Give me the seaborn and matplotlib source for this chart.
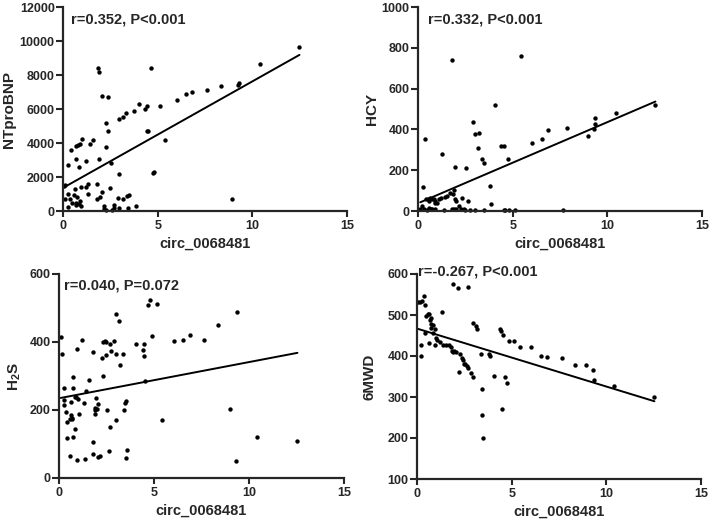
import matplotlib
matplotlib.use("Agg")
import numpy as np
import pandas as pd
import matplotlib.pyplot as plt
import seaborn as sns

# values
ntpro_x = [0.12, 0.04, 0.26, 0.44, 0.67, 0.67, 0.81, 0.88, 1.02, 0.84, 1.21, 1.40, 1.58, 1.88,
           1.84, 1.88, 2.04, 2.40, 2.28, 2.39, 2.28, 2.51, 2.96, 2.98, 3.16, 3.35, 3.77, 4.04,
           4.35, 4.46, 4.44, 4.51, 4.65, 4.74, 4.82, 5.12, 5.39, 6.02, 6.51, 6.82, 7.61, 8.32,
           9.26, 9.30, 8.95, 10.40, 12.49,
           0.09, 0.25, 0.25, 0.35, 0.49, 0.56, 0.61, 0.67, 0.75, 0.70, 0.82, 0.88, 0.95, 0.95,
           1.23, 1.32, 1.30, 1.79, 1.79, 1.93, 2.07, 2.14, 2.19, 2.25, 2.46, 2.61, 2.67, 2.72,
           2.89, 2.98, 3.16, 3.39, 3.49, 3.44, 3.86]
ntpro_y = [1530, 1500, 2700, 3580, 3030, 3820, 3900, 3970, 4210, 2580, 2940, 3970, 4170, 3030,
           8430, 8160, 6750, 6710, 5190, 4700, 3760, 2800, 2190, 5420, 5540, 5750, 5870, 6320,
           6010, 6200, 4680, 4680, 8430, 2250, 2290, 6160, 4150, 6520, 6870, 6990, 7100, 7340,
           7400, 7550, 685, 8650, 9630,
           725, 1020, 235, 685, 470, 960, 1310, 450, 820, 370, 430, 570, 270, 1430,
           1410, 1020, 1570, 1570, 685, 820, 1120, 290, 140, 60, 1370, 80, 350, 200,
           780, 200, 685, 880, 940, 200, 290]

hcy_x = [0.25, 0.39, 1.27, 1.94, 1.80, 2.54, 2.91, 3.03, 3.20, 3.17, 3.36, 3.50, 3.80, 3.87,
         4.07, 4.38, 4.52, 4.75, 5.42, 6.04, 6.55, 6.87, 7.87, 9.00, 9.31, 9.35, 9.35, 10.44,
         12.54,
         0.21, 0.12, 0.30, 0.40, 0.51, 0.60, 0.65, 0.74, 0.83, 0.88, 0.92, 1.00, 0.67, 0.56,
         0.74, 0.46, 0.92, 1.09, 1.23, 1.41, 1.55, 1.67, 1.83, 1.90, 1.97, 2.02, 2.15, 2.32,
         2.29, 2.64, 1.80, 1.88, 1.99, 2.41, 2.50, 2.76, 3.03, 3.47, 1.36, 4.52, 4.61, 4.79,
         5.14, 7.64]
hcy_y = [119, 354, 281, 217, 739, 209, 436, 377, 383, 307, 256, 237, 124, 36,
         520, 321, 321, 253, 762, 331, 352, 397, 405, 367, 400, 427, 457, 478,
         520,
         24, 8, 11, 57, 60, 50, 62, 57, 60, 50, 41, 38, 11, 16,
         11, 5, 11, 57, 64, 70, 73, 86, 82, 104, 57, 47, 24, 64,
         11, 49, 11, 8, 8, 8, 5, 5, 5, 5, 5, 5, 5, 5,
         5, 5]

h2s_x = [0.09, 0.14, 0.25, 0.26, 0.28, 0.39, 0.44, 0.44, 0.56, 0.60, 0.63, 0.65, 0.69, 0.70,
         0.74, 0.76, 0.76, 0.83, 0.85, 0.90, 0.97, 1.00, 0.95, 1.04, 1.21, 1.29, 1.36, 1.41,
         1.58, 1.78, 1.80, 1.78, 1.88, 1.92, 1.92, 1.95, 1.99, 2.06, 2.04, 2.17, 2.24, 2.32,
         2.29, 2.41, 2.46, 2.46, 2.52, 2.64, 2.68, 2.69, 2.73, 2.90, 2.98, 3.01, 2.99, 3.17,
         3.20, 3.38, 3.41, 3.45, 3.50, 3.57, 3.50, 4.07, 4.40, 4.47, 4.49, 4.52, 4.68, 4.77,
         4.88, 5.14, 5.42, 6.06, 6.53, 6.88, 7.64, 8.38, 8.98, 9.35, 9.31, 10.44, 12.55]
h2s_y = [414, 365, 265, 229, 216, 194, 164, 118, 65, 175, 224, 184, 176, 175,
         122, 265, 298, 237, 143, 238, 379, 233, 54, 188, 406, 220, 55, 255,
         287, 372, 106, 72, 206, 199, 189, 235, 203, 62, 219, 65, 354, 299,
         400, 404, 400, 361, 200, 78, 149, 393, 375, 403, 481, 365, 170, 461,
         332, 364, 200, 220, 227, 83, 60, 393, 377, 358, 394, 284, 508, 523,
         417, 513, 171, 402, 405, 422, 406, 451, 203, 487, 49, 122, 109]

mwd_x = [0.05, 0.16, 0.26, 0.39, 0.42, 0.23, 0.23, 0.42, 0.49, 0.56, 0.62, 0.65, 0.69, 0.72,
         0.74, 0.76, 0.83, 0.86, 0.93, 0.97, 1.00, 1.06, 1.30, 1.21, 1.39, 1.55, 1.71, 1.78,
         1.83, 1.92, 1.88, 1.95, 2.06, 2.15, 2.20, 2.29, 2.38, 2.43, 2.46, 2.55, 2.62, 2.69,
         2.68, 2.85, 2.98, 2.98, 3.13, 3.15, 3.38, 3.43, 3.43, 3.47, 3.79, 3.87, 4.05, 4.38,
         4.45, 4.52, 4.49, 4.65, 4.77, 4.84, 5.12, 5.42, 6.02, 6.53, 6.87, 7.64, 8.35, 8.94,
         9.31, 9.35, 10.42, 12.54]
mwd_y = [532, 532, 535, 546, 525, 426, 399, 457, 497, 502, 431, 503, 487, 479,
         493, 468, 475, 456, 467, 426, 444, 440, 508, 434, 428, 426, 427, 422,
         413, 576, 409, 411, 409, 566, 360, 405, 396, 390, 381, 381, 375, 370,
         568, 358, 350, 480, 473, 466, 405, 319, 255, 199, 404, 400, 352, 465,
         461, 452, 270, 350, 333, 437, 436, 422, 422, 401, 397, 395, 378, 377,
         366, 341, 326, 301]

panels = [
    (ntpro_x, ntpro_y, "NTproBNP", "r=0.352, P<0.001", (0, 12000), [0, 2000, 4000, 6000, 8000, 10000, 12000]),
    (hcy_x, hcy_y, "HCY", "r=0.332, P<0.001", (0, 1000), [0, 200, 400, 600, 800, 1000]),
    (h2s_x, h2s_y, "H$_2$S", "r=0.040, P=0.072", (0, 600), [0, 200, 400, 600]),
    (mwd_x, mwd_y, "6MWD", "r=-0.267, P<0.001", (100, 600), [100, 200, 300, 400, 500, 600]),
]

sns.set_style("ticks")
plt.rcParams['font.family'] = ['Liberation Sans', 'DejaVu Sans']
plt.rcParams['font.weight'] = 'bold'
plt.rcParams['axes.labelweight'] = 'bold'
plt.rcParams['mathtext.fontset'] = 'custom'
plt.rcParams['mathtext.rm'] = 'Liberation Sans:bold'
plt.rcParams['mathtext.it'] = 'Liberation Sans:bold'
plt.rcParams['mathtext.bf'] = 'Liberation Sans:bold'

fig = plt.figure(figsize=(7.12, 5.23), dpi=100)
# axes boxes in figure fractions, ylabel x spot, stats text spot
boxes = [
    [63 / 712, 312 / 523, 284 / 712, 204 / 523],
    [418 / 712, 312 / 523, 284 / 712, 204 / 523],
    [59 / 712, 45 / 523, 285 / 712, 204 / 523],
    [417 / 712, 44 / 523, 284 / 712, 205 / 523],
]
ylab_x = [-0.165, -0.137, -0.126, -0.141]
txt_pos = [(0.028, 0.917), (0.035, 0.917), (0.018, 0.926), (0.005, 0.995)]

for box, lx, tp, (xs, ys, ylab, txt, ylim, yticks) in zip(boxes, ylab_x, txt_pos, panels):
    ax = fig.add_axes(box)
    df = pd.DataFrame({'x': xs, 'y': ys})
    sns.regplot(data=df, x='x', y='y', ax=ax, ci=None, color='black',
                scatter_kws={'s': 10, 'linewidths': 0, 'alpha': 1, 'clip_on': False},
                line_kws={'lw': 1.4})
    ax.set_xlim(0, 15)
    ax.set_ylim(*ylim)
    ax.set_xticks([0, 5, 10, 15])
    ax.set_yticks(yticks)
    ax.set_xlabel("circ_0068481", fontsize=10.5, fontweight='bold', labelpad=3.5)
    ax.set_ylabel(ylab, fontsize=11, fontweight='bold')
    ax.yaxis.set_label_coords(lx, 0.5)
    for side in ['left', 'bottom']:
        ax.spines[side].set_linewidth(1.6)
    sns.despine(ax=ax)
    ax.tick_params(axis='x', width=1.5, length=4.3, pad=2, labelsize=9)
    ax.tick_params(axis='y', width=1.5, length=5, pad=1, labelsize=9)
    for lab in ax.get_xticklabels() + ax.get_yticklabels():
        lab.set_fontweight('bold')
    ax.text(tp[0], tp[1], txt, transform=ax.transAxes, fontsize=10.5,
            fontweight='bold', va='baseline', ha='left')

fig.savefig("out.png", dpi=100)
